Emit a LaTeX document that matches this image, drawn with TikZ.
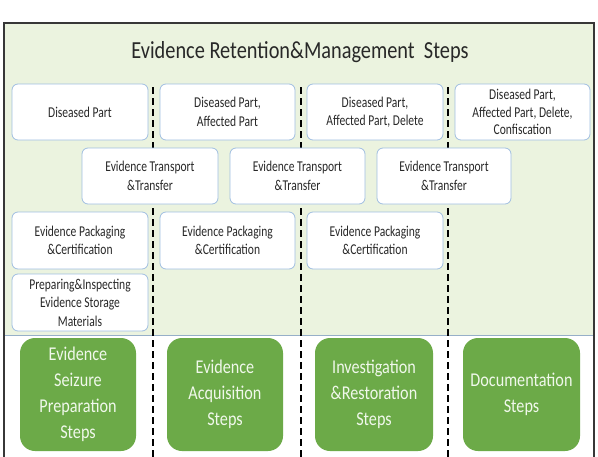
\documentclass[tikz,border=0pt]{standalone}
\usepackage{fontspec}
\setmainfont[FakeStretch=0.83]{Carlito}
\newfontfamily\boxfont[FakeStretch=0.77]{Carlito}
\definecolor{bggreen}{RGB}{235,243,223}
\definecolor{stepgreen}{RGB}{108,170,72}
\definecolor{boxblue}{RGB}{160,190,225}
\definecolor{framegray}{RGB}{55,55,55}
\definecolor{divline}{RGB}{150,175,200}
\definecolor{txtgray}{RGB}{40,40,40}
\definecolor{steptext}{RGB}{240,248,235}
\tikzset{
  infobox/.style={draw=boxblue, line width=0.8pt, fill=white, rounded corners=6pt,
    align=center, inner sep=0pt, text=txtgray, font=\boxfont\fontsize{15}{18.5}\selectfont},
  stepbox/.style={fill=stepgreen, rounded corners=15pt, align=center, inner sep=0pt,
    text=steptext, font=\fontsize{19.5}{26}\selectfont},
  sepline/.style={draw=black, line width=1.8pt, dash pattern=on 7pt off 4pt}
}
\begin{document}
\begin{tikzpicture}[x=1pt,y=-1pt]
\useasboundingbox (0,0) rectangle (598,456);
\fill[white] (0,0) rectangle (598,456);
\fill[bggreen] (4,23) rectangle (594,335);
\draw[divline, line width=0.8pt] (4,335) -- (594,335);
\draw[framegray, line width=1.8pt] (4,460) -- (4,23) -- (594,23) -- (594,460);
\node[text=txtgray, font=\fontsize{24.5}{28}\selectfont] (title) at (300,52) {Evidence Retention\&Management\ \ Steps};
% separators
\coordinate (s1t) at (153,87); \coordinate (s1b) at (153,458);
\coordinate (s2t) at (301,87); \coordinate (s2b) at (301,458);
\coordinate (s3t) at (448,87); \coordinate (s3b) at (448,458);
\draw[sepline] (s1t) -- (s1b);
\draw[sepline] (s2t) -- (s2b);
\draw[sepline] (s3t) -- (s3b);
% row 1
\node[infobox, minimum width=136pt, minimum height=56pt] (r1a) at (80,112) {Diseased Part};
\node[infobox, minimum width=135pt, minimum height=56pt] (r1b) at (227.5,112) {Diseased Part,\\Affected Part};
\node[infobox, minimum width=136pt, minimum height=56pt] (r1c) at (375,112) {Diseased Part,\\Affected Part, Delete};
\node[infobox, minimum width=135pt, minimum height=56pt, font=\boxfont\fontsize{15}{17.5}\selectfont] (r1d) at (522.5,112) {Diseased Part,\\Affected Part, Delete,\\Confiscation};
% row 2
\node[infobox, minimum width=136pt, minimum height=56pt] (r2a) at (150,176) {Evidence Transport\\\&Transfer};
\node[infobox, minimum width=135pt, minimum height=56pt] (r2b) at (297.5,176) {Evidence Transport\\\&Transfer};
\node[infobox, minimum width=134pt, minimum height=56pt] (r2c) at (444,176) {Evidence Transport\\\&Transfer};
% row 3
\node[infobox, minimum width=136pt, minimum height=57pt] (r3a) at (80,240.5) {Evidence Packaging\\\&Certification};
\node[infobox, minimum width=135pt, minimum height=57pt] (r3b) at (227.5,240.5) {Evidence Packaging\\\&Certification};
\node[infobox, minimum width=136pt, minimum height=57pt] (r3c) at (375,240.5) {Evidence Packaging\\\&Certification};
% row 4
\node[infobox, minimum width=136pt, minimum height=57pt] (r4a) at (80,302.5) {Preparing\&Inspecting\\Evidence Storage\\Materials};
% steps
\node[stepbox, minimum width=116pt, minimum height=113pt] (st1) at (78,394.5) {Evidence\\Seizure\\Preparation\\Steps};
\node[stepbox, minimum width=116pt, minimum height=113pt] (st2) at (225,394.5) {Evidence\\Acquisition\\Steps};
\node[stepbox, minimum width=118pt, minimum height=113pt] (st3) at (374,394.5) {Investigation\\\&Restoration\\Steps};
\node[stepbox, minimum width=117pt, minimum height=113pt] (st4) at (521.5,394.5) {Documentation\\Steps};
\end{tikzpicture}
\end{document}
